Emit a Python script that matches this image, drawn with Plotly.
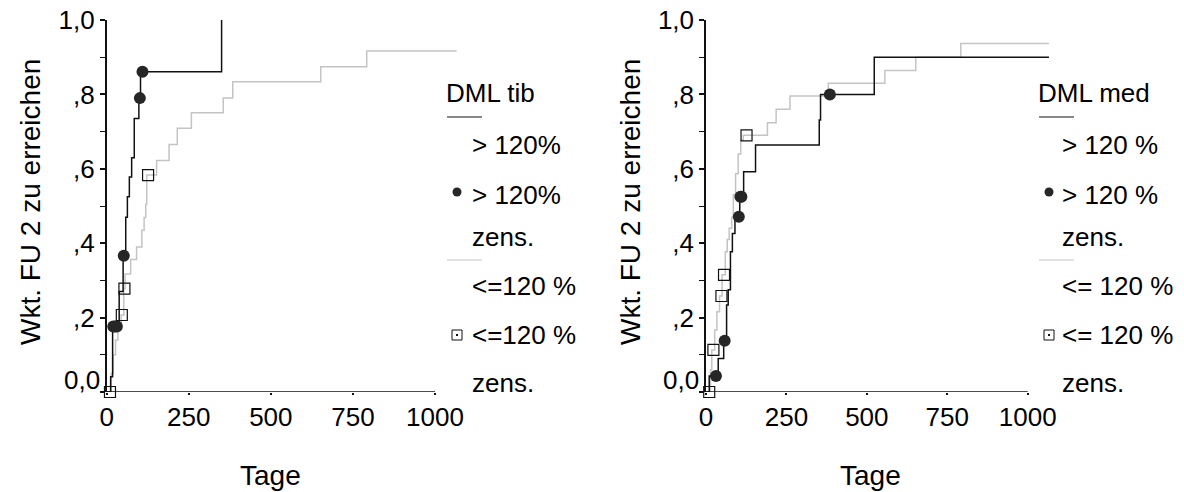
import bisect
import plotly.graph_objects as go

# ---- data: cumulative probability of reaching FU 2 (step curves) ----
# DML tib
tib_hi_t = [0, 12, 18, 38, 50, 58, 63, 69, 76, 84, 98, 103, 350]
tib_hi_y = [0, 0.041, 0.176, 0.27, 0.366, 0.47, 0.525, 0.578, 0.63, 0.735, 0.79, 0.861, 1.0]
tib_hi_cens = [20, 25, 31, 52, 101, 109]

tib_lo_t = [0, 14, 20, 27, 34, 44, 52, 56, 73, 91, 107, 114, 119, 122, 152, 190, 215,
            258, 355, 384, 652, 792, 1066]
tib_lo_y = [0, 0.05, 0.10, 0.14, 0.18, 0.207, 0.278, 0.317, 0.356, 0.39, 0.435, 0.469,
            0.505, 0.583, 0.622, 0.665, 0.709, 0.751, 0.79, 0.834, 0.874, 0.917, 0.917]
tib_lo_cens = [10, 46, 54, 126]

# DML med
med_hi_t = [0, 10, 38, 55, 64, 69, 76, 82, 90, 105, 117, 154, 352, 356, 523, 1066]
med_hi_y = [0, 0.043, 0.09, 0.138, 0.234, 0.275, 0.377, 0.426, 0.471, 0.525, 0.592,
            0.664, 0.731, 0.8, 0.9, 0.9]
med_hi_cens = [31, 58, 102, 107, 110, 385]

med_lo_t = [0, 14, 18, 27, 34, 42, 50, 60, 66, 72, 80, 85, 92, 100, 108, 116, 191, 218,
            261, 380, 556, 652, 792, 1066]
med_lo_y = [0, 0.06, 0.113, 0.167, 0.216, 0.258, 0.315, 0.377, 0.41, 0.44, 0.47, 0.53,
            0.587, 0.64, 0.677, 0.69, 0.724, 0.76, 0.796, 0.83, 0.864, 0.9, 0.937, 0.937]
med_lo_cens = [10, 23, 48, 56, 126]

x_ticks = [0, 250, 500, 750, 1000]
y_ticks = [0, 0.2, 0.4, 0.6, 0.8, 1.0]
y_ticktext = ["", ",2", ",4", ",6", ",8", "1,0"]

W, H = 1184, 492
FONT = "Liberation Sans, Arial, sans-serif"
FS = 26          # ticks and legend
FS_TITLE = 28    # axis titles
BLACK = "#111111"
GREY = "#c4c4c4"
DOT = "#262626"


def step_value(ts, ys, t):
    """Value of a right-continuous step function at time t."""
    i = bisect.bisect_right(ts, t) - 1
    return ys[max(i, 0)]


def px(x):
    return x / W


def py(y):
    return 1 - y / H


fig = go.Figure()

panels = [
    dict(xa="x", ya="y", hi=(tib_hi_t, tib_hi_y, tib_hi_cens),
         lo=(tib_lo_t, tib_lo_y, tib_lo_cens)),
    dict(xa="x2", ya="y2", hi=(med_hi_t, med_hi_y, med_hi_cens),
         lo=(med_lo_t, med_lo_y, med_lo_cens)),
]

for p in panels:
    lo_t, lo_y, lo_c = p["lo"]
    hi_t, hi_y, hi_c = p["hi"]
    fig.add_trace(go.Scatter(x=lo_t, y=lo_y, mode="lines", line_shape="hv",
                             line=dict(color=GREY, width=1.5),
                             xaxis=p["xa"], yaxis=p["ya"], cliponaxis=False))
    fig.add_trace(go.Scatter(x=hi_t, y=hi_y, mode="lines", line_shape="hv",
                             line=dict(color=BLACK, width=1.5),
                             xaxis=p["xa"], yaxis=p["ya"], cliponaxis=False))
    fig.add_trace(go.Scatter(x=hi_c, y=[step_value(hi_t, hi_y, t) for t in hi_c],
                             mode="markers",
                             marker=dict(symbol="circle", size=12, color=DOT,
                                         line=dict(width=0)),
                             xaxis=p["xa"], yaxis=p["ya"], cliponaxis=False))
    fig.add_trace(go.Scatter(x=lo_c, y=[step_value(lo_t, lo_y, t) for t in lo_c],
                             mode="markers",
                             marker=dict(symbol="square-open", size=11, color=BLACK,
                                         line=dict(width=1.2, color=BLACK)),
                             xaxis=p["xa"], yaxis=p["ya"], cliponaxis=False))

X_MAX = 1070
y_dom = [py(392), py(20)]
left_x0, left_k = 106.7, 0.3283
right_x0, right_k = 706.0, 0.3217

common_x = dict(range=[0, X_MAX], tickvals=x_ticks, ticks="outside", ticklen=2,
                tickwidth=1.5, tickcolor=BLACK, showline=False, showgrid=False,
                zeroline=False, automargin=False,
                tickfont=dict(family=FONT, size=FS, color="black"))
common_y = dict(range=[0, 1], tickvals=y_ticks, ticktext=y_ticktext, ticks="outside",
                ticklen=5, tickwidth=1.5, tickcolor=BLACK, showline=True,
                linecolor=BLACK, linewidth=1.5, showgrid=False, zeroline=False,
                automargin=False,
                minor=dict(ticks="outside", ticklen=5, tickwidth=1, tickcolor=BLACK,
                           dtick=0.1, showgrid=False),
                tickfont=dict(family=FONT, size=FS, color="black"))

fig.update_layout(
    width=W, height=H,
    margin=dict(l=0, r=0, t=0, b=0, autoexpand=False),
    paper_bgcolor="white", plot_bgcolor="white",
    showlegend=False,
    xaxis=dict(domain=[px(left_x0), px(left_x0 + left_k * X_MAX)], anchor="y",
               **common_x),
    yaxis=dict(domain=y_dom, anchor="x", **common_y),
    xaxis2=dict(domain=[px(right_x0), px(right_x0 + right_k * X_MAX)], anchor="y2",
                **common_x),
    yaxis2=dict(domain=y_dom, anchor="x2", **common_y),
)

shapes = []
annotations = []

# x axis lines span 0..1000 only
for xa, ya in (("x", "y"), ("x2", "y2")):
    shapes.append(dict(type="line", xref=xa, yref=ya, x0=0, x1=1000, y0=0, y1=0,
                       line=dict(color=BLACK, width=1.5)))
    # "0,0" label sits a little above the origin
    annotations.append(dict(text="0,0", xref=xa + " domain", yref=ya, x=0, y=0,
                            xanchor="right", yanchor="middle", xshift=-5, yshift=12,
                            showarrow=False,
                            font=dict(family=FONT, size=FS, color="black")))


def text(x, y, s, anchor="left", angle=0, size=FS):
    annotations.append(dict(text=s, xref="paper", yref="paper", x=px(x), y=py(y),
                            xanchor=anchor, yanchor="middle", showarrow=False,
                            textangle=angle,
                            font=dict(family=FONT, size=size, color="black")))


# axis titles
text(30, 202, "Wkt. FU 2 zu erreichen", anchor="center", angle=-90, size=FS_TITLE)
text(630, 202, "Wkt. FU 2 zu erreichen", anchor="center", angle=-90, size=FS_TITLE)
text(270, 475, "Tage", anchor="center", size=FS_TITLE)
text(870, 475, "Tage", anchor="center", size=FS_TITLE)

# legends
legends = [
    (447, 473, "DML tib", "> 120%", "<=120 %"),
    (1039, 1063, "DML med", "> 120 %", "<= 120 %"),
]
for lx, tx, title, hi_lab, lo_lab in legends:
    text(lx - 3, 93, title)
    shapes.append(dict(type="line", xref="paper", yref="paper", x0=px(lx), x1=px(lx + 35),
                       y0=py(117), y1=py(117), line=dict(color=BLACK, width=1.2)))
    text(tx - 3, 145, hi_lab)
    cx = lx + 10
    shapes.append(dict(type="circle", xref="paper", yref="paper",
                       x0=px(cx - 4.5), x1=px(cx + 4.5), y0=py(192 + 4.5), y1=py(192 - 4.5),
                       fillcolor=DOT, line=dict(width=0)))
    text(tx - 3, 195, hi_lab)
    text(tx - 3, 237, "zens.")
    shapes.append(dict(type="line", xref="paper", yref="paper", x0=px(lx), x1=px(lx + 35),
                       y0=py(260), y1=py(260), line=dict(color=GREY, width=1.2)))
    text(tx - 3, 286, lo_lab)
    shapes.append(dict(type="rect", xref="paper", yref="paper",
                       x0=px(cx - 5), x1=px(cx + 5), y0=py(335 + 5), y1=py(335 - 5),
                       line=dict(color=BLACK, width=1)))
    shapes.append(dict(type="rect", xref="paper", yref="paper",
                       x0=px(cx - 1), x1=px(cx + 1), y0=py(335 + 1), y1=py(335 - 1),
                       fillcolor=BLACK, line=dict(width=0)))
    text(tx - 3, 335, lo_lab)
    text(tx - 3, 383, "zens.")

fig.update_layout(shapes=shapes, annotations=annotations)

fig.write_html("out.html")
